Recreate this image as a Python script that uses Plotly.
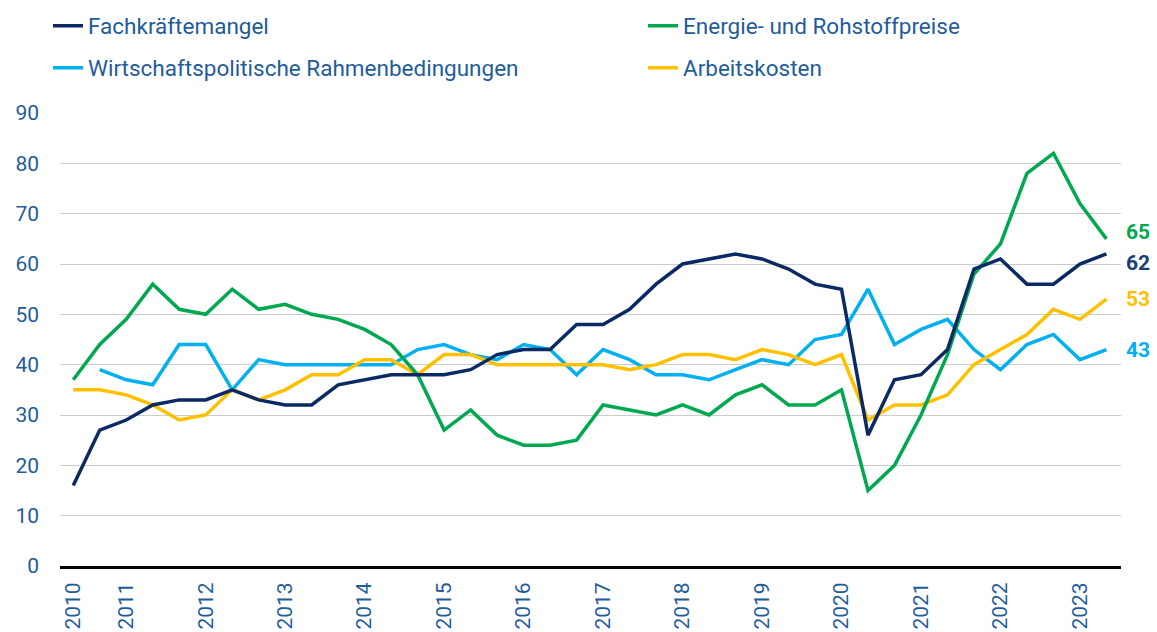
import plotly.graph_objects as go

# ---- data (three surveys per year, 2010 has two) ----
years = ["2010", "2011", "2012", "2013", "2014", "2015", "2016",
         "2017", "2018", "2019", "2020", "2021", "2022", "2023"]
year_start_index = [0, 2, 5, 8, 11, 14, 17, 20, 23, 26, 29, 32, 35, 38]

fachkraeftemangel = [16, 27, 29, 32, 33, 33, 35, 33, 32, 32,
                     36, 37, 38, 38, 38, 39, 42, 43, 43, 48,
                     48, 51, 56, 60, 61, 62, 61, 59, 56, 55,
                     26, 37, 38, 43, 59, 61, 56, 56, 60, 62]
energie_rohstoff = [37, 44, 49, 56, 51, 50, 55, 51, 52, 50,
                    49, 47, 44, 38, 27, 31, 26, 24, 24, 25,
                    32, 31, 30, 32, 30, 34, 36, 32, 32, 35,
                    15, 20, 30, 42, 58, 64, 78, 82, 72, 65]
wirtschaftspolitik = [None, 39, 37, 36, 44, 44, 35, 41, 40, 40,
                      40, 40, 40, 43, 44, 42, 41, 44, 43, 38,
                      43, 41, 38, 38, 37, 39, 41, 40, 45, 46,
                      55, 44, 47, 49, 43, 39, 44, 46, 41, 43]
arbeitskosten = [35, 35, 34, 32, 29, 30, 35, 33, 35, 38,
                 38, 41, 41, 38, 42, 42, 40, 40, 40, 40,
                 40, 39, 40, 42, 42, 41, 43, 42, 40, 42,
                 29, 32, 32, 34, 40, 43, 46, 51, 49, 53]

x_idx = list(range(len(fachkraeftemangel)))

FONT = "Roboto, sans-serif"
TXT = "#1f5c9a"

# name, values, line colour, label colour, legend id, legend pos (px), label y-shift
series = [
    ("Fachkräftemangel", fachkraeftemangel, "#0b2a63", "#163f7a", "legend", (48, 26), -9),
    ("Energie- und Rohstoffpreise", energie_rohstoff, "#00a84f", "#00a84f", "legend2", (643, 26), 7),
    ("Wirtschaftspolitische Rahmenbedingungen", wirtschaftspolitik, "#00b0f0", "#00b0f0", "legend3", (48, 68), 0),
    ("Arbeitskosten", arbeitskosten, "#ffc000", "#ffc000", "legend4", (643, 68), 0),
]

fig = go.Figure()
draw_order = [2, 3, 1, 0]
for i in draw_order:
    name, vals, col, lcol, leg, pos, ysh = series[i]
    fig.add_trace(go.Scatter(
        x=x_idx, y=vals, mode="lines", name=name, legend=leg,
        line=dict(color=col, width=3.5), connectgaps=False,
    ))

legends = {}
for name, vals, col, lcol, leg, pos, ysh in series:
    fig.add_annotation(
        x=x_idx[-1], y=vals[-1], text=f"<b>{vals[-1]}</b>", showarrow=False,
        xanchor="left", yanchor="middle", xshift=18, yshift=ysh,
        font=dict(family=FONT, size=21, color=lcol),
    )
    legends[leg] = dict(orientation="h", xref="container", yref="container",
                        x=pos[0] / 1157, y=1 - pos[1] / 632,
                        xanchor="left", yanchor="middle",
                        font=dict(family=FONT, size=22.5, color=TXT),
                        bgcolor="rgba(0,0,0,0)")

fig.update_layout(
    width=1157, height=632,
    margin=dict(l=60, r=36, t=113, b=66, autoexpand=False),
    plot_bgcolor="white", paper_bgcolor="white",
    font=dict(family=FONT, size=21, color=TXT),
    showlegend=True,
    **legends,
)

fig.update_xaxes(
    range=[-0.5, 39.55], tickmode="array", tickvals=year_start_index, ticktext=years,
    tickangle=-90, showgrid=False, zeroline=False, automargin=False,
    showline=True, linecolor="black", linewidth=3,
    ticks="", ticklabelstandoff=5, tickfont=dict(family=FONT, size=21, color=TXT),
)
fig.update_yaxes(
    range=[0, 90], tickmode="linear", tick0=0, dtick=10, automargin=False,
    showgrid=True, gridcolor="#cccccc", gridwidth=1, zeroline=False,
    ticks="", ticklabelstandoff=20, tickfont=dict(family=FONT, size=21, color=TXT),
)

fig.write_html("out.html", config={"displayModeBar": False},
               post_script="document.body.style.margin='0';")
